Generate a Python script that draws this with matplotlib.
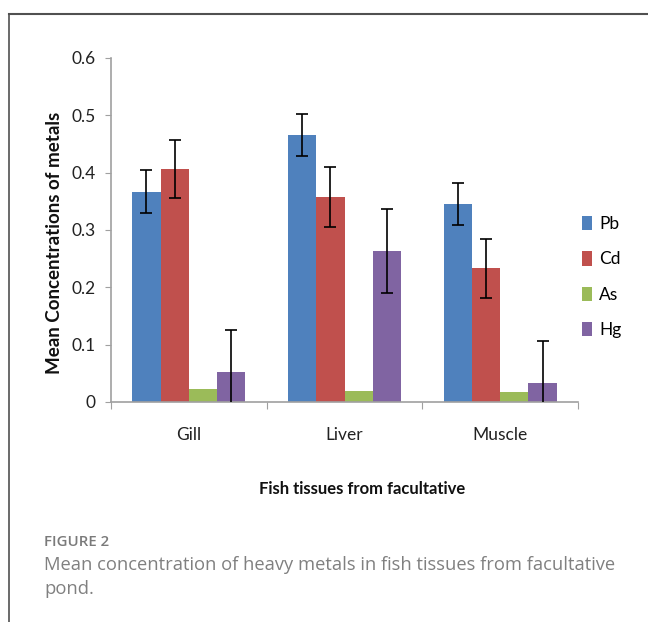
import numpy as np
import matplotlib.pyplot as plt
from matplotlib.lines import Line2D

# data
tissues = ['Gill', 'Liver', 'Muscle']
metals = ['Pb', 'Cd', 'As', 'Hg']
pb = [0.367, 0.466, 0.345]
cd = [0.406, 0.358, 0.233]
as_ = [0.023, 0.019, 0.018]
hg = [0.053, 0.263, 0.034]
pb_err = [0.037, 0.037, 0.037]
cd_err = [0.051, 0.052, 0.051]
as_err = [0.0, 0.0, 0.0]
hg_err = [0.073, 0.073, 0.072]

colors = ['#4F81BD', '#C0504D', '#9BBB59', '#8064A2']
chart_font = ['Lato', 'DejaVu Sans']
cap_font = ['Open Sans', 'DejaVu Sans']

fig = plt.figure(figsize=(6.48, 6.22), dpi=100)

# page frame (top and left rule)
fig.add_artist(Line2D([9/648, 1], [1-14/622, 1-14/622], color='#505050', lw=1.5))
fig.add_artist(Line2D([9/648, 9/648], [0, 1-14/622], color='#505050', lw=1.2))

ax = fig.add_axes([111/648, 1-402/622, (578-111)/648, (402-58)/622])

vals = [pb, cd, as_, hg]
errs = [pb_err, cd_err, as_err, hg_err]
n = len(metals)
gap = 1.5
w = 1.0/(n+gap)
x = np.arange(len(tissues))
for i in range(n):
    pos = x - n*w/2 + w*(i+0.5)
    ax.bar(pos, vals[i], width=w, color=colors[i], label=metals[i], zorder=2)
    e = np.array(errs[i])
    if e.max() > 0:
        ax.errorbar(pos, vals[i], yerr=e, fmt='none', ecolor='black',
                    elinewidth=1.2, capsize=4, capthick=1.2, zorder=3)

ax.set_xlim(-0.5, len(tissues)-0.5)
ax.set_ylim(0, 0.6)
ax.set_yticks(np.arange(0, 0.61, 0.1))
ax.set_yticklabels(['0', '0.1', '0.2', '0.3', '0.4', '0.5', '0.6'],
                   fontsize=12.5, family=chart_font, color='#222222')
ax.set_xticks([-0.5, 0.5, 1.5, 2.5])
ax.set_xticklabels([])
ax.set_xticks(x, minor=True)
ax.set_xticklabels(tissues, minor=True, fontsize=12.5, family=chart_font, color='#222222')
ax.tick_params(axis='x', which='major', length=5, color='#A0A0A0', direction='out')
ax.tick_params(axis='x', which='minor', length=0, pad=18)
ax.tick_params(axis='y', length=4, color='#A0A0A0', pad=7)

for s in ['top', 'right']:
    ax.spines[s].set_visible(False)
for s in ['left', 'bottom']:
    ax.spines[s].set_color('#A0A0A0')
    ax.spines[s].set_linewidth(1.2)

fig.text(55/648, 1-243/622, 'Mean Concentrations of metals', rotation=90,
         ha='center', va='center', fontsize=13.5, fontweight='bold',
         family=chart_font, color='#111111')

# legend
leg = fig.legend(loc='center left', bbox_to_anchor=(566/648, 1-277/622), frameon=False,
                 prop={'family': chart_font, 'size': 12.5}, handlelength=0.6,
                 handleheight=0.9, handletextpad=0.4, labelspacing=1.1)

fig.text(362/648, 1-489/622, 'Fish tissues from facultative', ha='center', va='center',
         fontsize=12, fontweight='bold', family=chart_font, color='#111111')

# caption
fig.text(44/648, 1-542/622, 'FIGURE 2', ha='left', va='center', fontsize=10.8,
         fontweight='semibold', family=cap_font, color='#7a7a7a')
fig.text(44/648, 1-565/622, 'Mean concentration of heavy metals in fish tissues from facultative',
         ha='left', va='center', fontsize=13.2, family=cap_font, color='#808080')
fig.text(44/648, 1-589/622, 'pond.', ha='left', va='center', fontsize=13.2,
         family=cap_font, color='#808080')

fig.savefig('out.png', dpi=100)
